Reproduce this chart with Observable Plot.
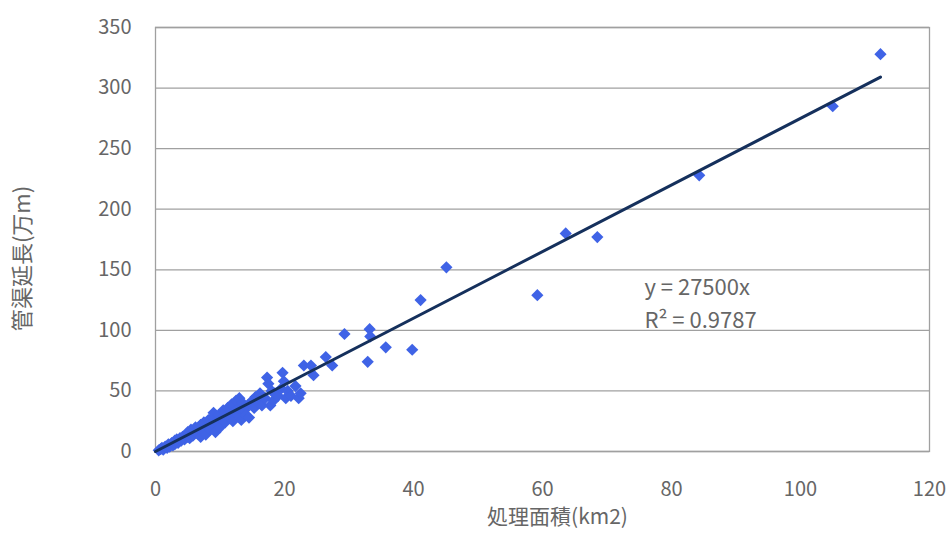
<!DOCTYPE html>
<html>
<head>
<meta charset="utf-8">
<script src="https://cdn.jsdelivr.net/npm/d3@7"></script>
<script src="https://cdn.jsdelivr.net/npm/@observablehq/plot@0.6"></script>
<style>
  html, body { margin: 0; padding: 0; background: #fff; }
</style>
</head>
<body>
<div id="chart"></div>
<script>
// 処理面積 (km2)
const areas = [
  0.5,0.8,1,1.2,1.5,1.8,2,2.2,2.5,2.7,3,3,3.3,3.5,3.8,4,4.2,4.5,4.8,5,5,5.3,5.5,5.8,6,6.2,6.5,6.8,7,7,
  7.3,7.5,7.8,8,8.2,8.5,8.8,9,9,9.3,9.5,9.8,10,10.2,10.5,10.8,11,11.2,11.5,11.8,12,12.2,12.5,12.8,13,13,
  13.3,13.5,13.8,14,14.3,14.5,15,15.3,15.5,16,16.2,16.5,17,17.3,17.5,17.8,18,18.3,18.5,19,19.5,19.7,19.9,
  20.2,20.5,21,21.7,22.2,22.5,
  23,24.1,24.5,26.4,27.4,29.3,32.9,33.2,33.3,35.7,39.8,41.1,45.1,59.2,63.6,68.5,84.3,105,112.4
];
// 管渠延長 (万m)
const lengths = [
  1,2,3,1.5,4,3,6,4,7,5,9,6,10,7,11,9,12,10,14,12,16,11,18,13,17,20,15,19,22,12,
  18,24,14,21,26,18,28,22,32,16,25,30,20,27,34,24,30,36,28,39,25,33,42,30,44,36,
  26,40,34,30,38,28,42,36,45,40,48,38,44,61,56,38,50,42,48,46,52,65,58,
  44,50,46,54,44,48,
  71,71,63,78,71,97,74,101,95,86,84,125,152,129,180,177,228,285,328
];
// 近似直線 y = 27500x (m) → 2.75 万m / km2
const slope = 2.75;
const fitX = [0, 112.4];
const xTicks = [0, 20, 40, 60, 80, 100, 120];
const yTicks = [0, 50, 100, 150, 200, 250, 300, 350];
const eqLines = ["y = 27500x", "R² = 0.9787"];
const eqY = [135, 108];
const xTitle = "処理面積(km2)";
const yTitle = "管渠延長(万m)";

const points = areas.map((a, i) => ({x: a, y: lengths[i]}));
const fit = fitX.map(x => ({x, y: slope * x}));
const eq = eqLines.map((t, i) => ({t, x: 75.8, y: eqY[i]}));

const plot = Plot.plot({
  width: 949,
  height: 533,
  marginLeft: 155,
  marginRight: 20,
  marginTop: 27,
  marginBottom: 82,
  style: {
    fontFamily: "'Noto Sans CJK JP', 'Noto Sans', sans-serif",
    fontSize: "20px",
    color: "#666",
    background: "#fff"
  },
  x: {
    domain: [0, 120],
    ticks: xTicks,
    tickSize: 0,
    tickPadding: 30,
    label: null
  },
  y: {
    domain: [0, 350],
    ticks: yTicks,
    tickSize: 0,
    tickPadding: 24,
    label: null
  },
  marks: [
    Plot.gridY(yTicks, {stroke: "#a0a0a0", strokeOpacity: 1, strokeWidth: 1.3}),
    Plot.frame({stroke: "#a0a0a0", strokeWidth: 1.3}),
    Plot.dot(points, {x: "x", y: "y", symbol: "diamond2", r: 5.5, fill: "#3f63e6", stroke: "none"}),
    Plot.line(fit, {x: "x", y: "y", stroke: "#15305c", strokeWidth: 3}),
    Plot.text(eq, {x: "x", y: "y", text: "t", textAnchor: "start", fill: "#666", fontSize: 22}),
    Plot.text([xTitle], {frameAnchor: "bottom", text: d => d, textAnchor: "middle", lineAnchor: "middle", dy: 66, dx: 15, fontSize: 21, fill: "#666"}),
    Plot.text([yTitle], {frameAnchor: "left", text: d => d, textAnchor: "middle", lineAnchor: "middle", dx: -133, dy: 19, rotate: -90, fontSize: 22, fill: "#666"})
  ]
});
document.getElementById("chart").append(plot);
</script>
</body>
</html>
